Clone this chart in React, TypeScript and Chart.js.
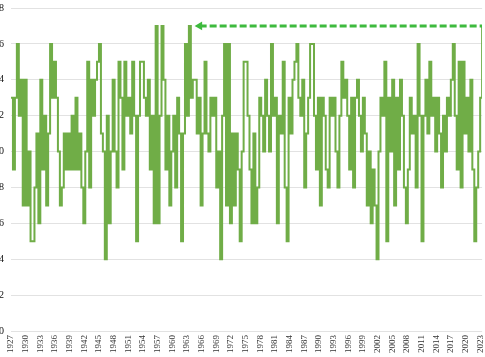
import React, { useEffect, useRef } from "react";
import { Chart, registerables } from "chart.js";

Chart.register(...registerables);

const startYear = 1927;
const pointsPerYear = 2.5;

const values: number[] = [
  13, 9, 13, 16, 12, 14, 7, 14, 7, 10, 5, 5, 8, 11, 6, 14, 9, 12, 7, 11,
  16, 13, 15, 13, 10, 7, 8, 11, 9, 11, 9, 12, 9, 13, 9, 11, 8, 6, 10, 15,
  8, 14, 12, 14, 15, 16, 11, 10, 4, 12, 6, 10, 14, 10, 8, 15, 13, 9, 15, 12,
  13, 11, 15, 12, 5, 12, 15, 15, 13, 12, 14, 9, 12, 6, 17, 6, 12, 17, 14, 9,
  12, 7, 10, 12, 8, 13, 11, 5, 11, 16, 12, 17, 13, 14, 14, 11, 13, 7, 11, 15,
  11, 10, 13, 12, 13, 8, 10, 4, 12, 16, 7, 16, 6, 11, 7, 11, 9, 5, 10, 15,
  15, 12, 9, 6, 11, 6, 8, 13, 12, 10, 14, 12, 10, 16, 12, 13, 6, 12, 11, 15,
  8, 5, 13, 11, 14, 15, 16, 13, 12, 14, 8, 11, 13, 16, 16, 12, 9, 13, 7, 13,
  12, 9, 8, 13, 12, 13, 10, 8, 12, 15, 13, 14, 12, 9, 13, 8, 13, 14, 12, 10,
  13, 11, 7, 10, 6, 9, 7, 4, 10, 13, 12, 15, 5, 13, 10, 14, 7, 13, 9, 14,
  12, 8, 6, 9, 13, 11, 12, 8, 16, 12, 5, 12, 14, 11, 15, 12, 13, 10, 13, 11,
  8, 12, 10, 13, 12, 14, 16, 12, 9, 15, 8, 15, 11, 13, 10, 14, 9, 5, 8, 10,
  13, 17,
];

const tickYears: number[] = [
  1927, 1930, 1933, 1936, 1939, 1942, 1945, 1948, 1951, 1954, 1957, 1960,
  1963, 1966, 1969, 1972, 1975, 1978, 1981, 1984, 1987, 1990, 1993, 1996,
  1999, 2002, 2005, 2008, 2011, 2014, 2017, 2020, 2023,
];

const arrowYears: number[] = [1965.6, 2023.4];
const arrowLevel = 17;

export default function App() {
  const ref = useRef<HTMLCanvasElement | null>(null);

  useEffect(() => {
    if (!ref.current) return;
    document.body.style.overflow = "hidden";
    const series = values.map((v, i) => ({ x: startYear + i / pointsPerYear, y: v }));
    const arrow = arrowYears.map((x) => ({ x, y: arrowLevel }));
    const chart = new Chart(ref.current, {
      type: "line",
      data: {
        datasets: [
          {
            data: arrow,
            borderColor: "#3dba3d",
            backgroundColor: "#3dba3d",
            borderWidth: 3,
            borderDash: [7, 3],
            pointStyle: "triangle",
            rotation: -90,
            pointRadius: [5, 0],
            pointHoverRadius: 0,
            pointBorderWidth: 0,
            pointBackgroundColor: "#3dba3d",
          } as any,
          {
            data: series,
            borderColor: "#70AD47",
            borderWidth: 2,
            pointRadius: 0,
            stepped: true,
            fill: false,
          } as any,
        ],
      },
      options: {
        animation: false,
        responsive: false,
        maintainAspectRatio: false,
        layout: { padding: { top: 0, right: 10, bottom: 0, left: 0 } },
        plugins: { legend: { display: false }, tooltip: { enabled: false } },
        scales: {
          x: {
            type: "linear",
            min: 1927,
            max: 2023.4,
            grid: { display: false, drawTicks: false },
            border: { display: false },
            afterBuildTicks: (scale: any) => {
              scale.ticks = tickYears.map((v) => ({ value: v }));
            },
            afterFit: (scale: any) => {
              scale.height = 25;
            },
            ticks: {
              autoSkip: false,
              minRotation: 90,
              maxRotation: 90,
              padding: 4,
              color: "#333",
              font: { family: "'Liberation Serif', serif", size: 9 },
              callback: (v: any) => String(v),
            },
          },
          y: {
            min: 0,
            max: 18,
            grid: { color: "#e2e2e2", lineWidth: 1, drawTicks: false },
            border: { display: false },
            afterFit: (scale: any) => {
              scale.width = 31;
            },
            ticks: {
              stepSize: 2,
              padding: 7,
              color: "#111",
              font: { family: "'Liberation Serif', serif", size: 10 },
            },
          },
        },
      },
    });
    const area = chart.chartArea;
    const shift = Math.round(area.top - 8);
    if (ref.current && shift !== 0) {
      ref.current.style.top = -shift + "px";
    }
    return () => chart.destroy();
  }, []);

  return (
    <div
      style={{
        position: "fixed",
        left: 0,
        top: 0,
        width: 485,
        height: 357,
        overflow: "hidden",
        background: "#fff",
      }}
    >
      <canvas
        ref={ref}
        width={515}
        height={361}
        style={{ position: "absolute", left: -20, top: 0, width: 515, height: 361 }}
      />
    </div>
  );
}
